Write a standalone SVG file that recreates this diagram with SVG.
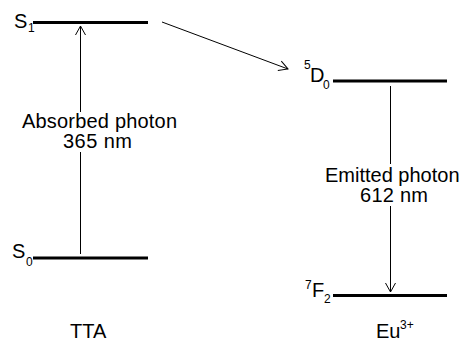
<svg xmlns="http://www.w3.org/2000/svg" width="466" height="341" viewBox="0 0 466 341">
<defs>
<style>
text{font-family:"Liberation Sans",Arial,sans-serif;fill:#000}
.lvl{stroke:#000;stroke-width:3}
.arr{stroke:#000;stroke-width:1;fill:none}
.lab{font-size:20px}
.sub{font-size:12px}
</style>
<marker id="open" viewBox="0 0 12 12" refX="11" refY="6" markerWidth="12" markerHeight="12" markerUnits="userSpaceOnUse" orient="auto">
<path d="M2,1 L11,6 L2,11" fill="none" stroke="#000" stroke-width="1"/>
</marker>
</defs>
<rect width="466" height="341" fill="#fff"/>
<g id="S1"><line class="lvl" x1="33" y1="22.5" x2="148" y2="22.5"/><text class="lab" x="14" y="28">S</text><text class="sub" x="28" y="32">1</text></g>
<g id="S0"><line class="lvl" x1="33" y1="258" x2="148" y2="258"/><text class="lab" x="12" y="258">S</text><text class="sub" x="26" y="266">0</text></g>
<g id="D0"><line class="lvl" x1="333" y1="81" x2="447" y2="81"/><text class="sub" x="304" y="69">5</text><text class="lab" x="310" y="82">D</text><text class="sub" x="323" y="89">0</text></g>
<g id="F2"><line class="lvl" x1="333" y1="295.5" x2="447" y2="295.5"/><text class="sub" x="305" y="289">7</text><text class="lab" x="312" y="297">F</text><text class="sub" x="324" y="303">2</text></g>
<g id="TTA"><text class="lab" x="70" y="338">TTA</text></g>
<g id="Eu"><text class="lab" x="376" y="338">Eu</text><text class="sub" x="400" y="329">3+</text></g>
<g id="connectors">
<line class="arr" x1="80.5" y1="254" x2="80.5" y2="26" marker-end="url(#open)"/>
<line class="arr" x1="162" y1="22" x2="288" y2="69" marker-end="url(#open)"/>
<line class="arr" x1="390.5" y1="86" x2="390.5" y2="292" marker-end="url(#open)"/>
</g>
<g id="photon-labels">
<rect x="20" y="112" width="160" height="40" fill="#fff"/>
<text class="lab" x="22" y="128" textLength="155">Absorbed photon</text>
<text class="lab" x="63" y="148" textLength="69">365 nm</text>
<rect x="322" y="164" width="144" height="42" fill="#fff"/>
<text class="lab" x="325" y="182">Emitted photon</text>
<text class="lab" x="360" y="202" textLength="68">612 nm</text>
</g>
</svg>
